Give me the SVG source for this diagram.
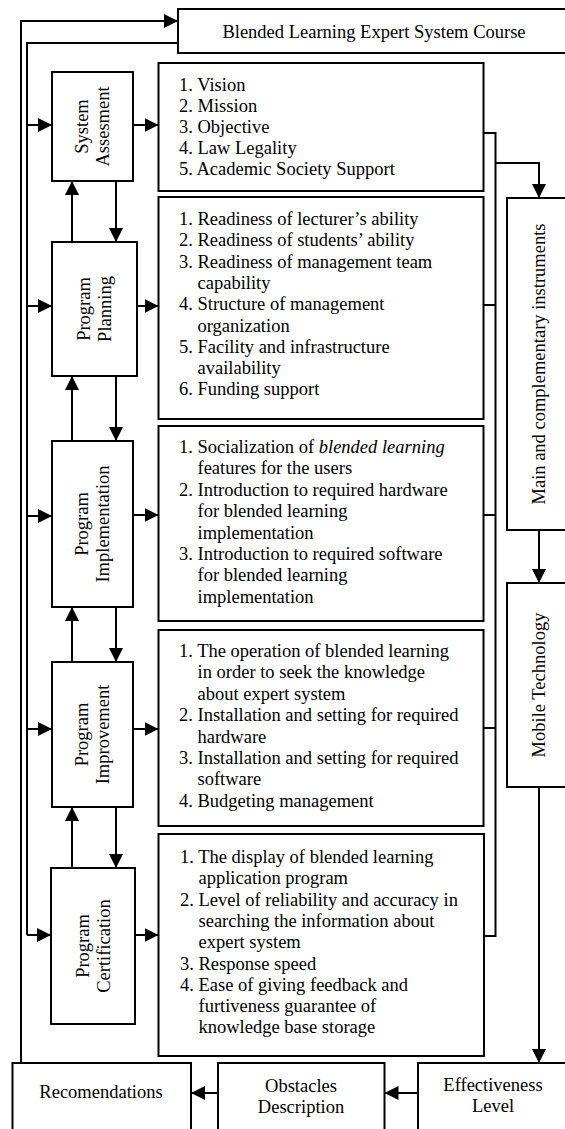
<svg xmlns="http://www.w3.org/2000/svg" width="565" height="1129" viewBox="0 0 565 1129">
<defs>
<marker id="ah" markerUnits="userSpaceOnUse" markerWidth="15" markerHeight="14" refX="14" refY="7" orient="auto">
<path d="M0,0 L14,7 L0,14 z" fill="#000"/>
</marker>
<style>
.box{fill:#fff;stroke:#000;stroke-width:2}
.ln{fill:none;stroke:#000;stroke-width:2}
.ar{fill:none;stroke:#000;stroke-width:2;marker-end:url(#ah)}
text{font-family:"Liberation Serif","Times New Roman",serif;font-size:18.5px;fill:#000}
.c{text-anchor:middle}
</style>
</defs>
<rect width="565" height="1129" fill="#fff"/>

<g id="connectors">
<path class="ar" d="M21,1063 V21 H178"/>
<path class="ln" d="M178,43 H27 V935"/>
<path class="ar" d="M27,125 H52"/>
<path class="ar" d="M27,306 H52"/>
<path class="ar" d="M27,516 H52"/>
<path class="ar" d="M27,729 H52"/>
<path class="ar" d="M27,935 H51"/>
<path class="ar" d="M133,125 H158.5"/>
<path class="ar" d="M137,306 H158.5"/>
<path class="ar" d="M133,515 H158.5"/>
<path class="ar" d="M133,729 H158.5"/>
<path class="ar" d="M135,935 H158.5"/>
<path class="ar" d="M72,242 V181"/>
<path class="ar" d="M116,181 V242"/>
<path class="ar" d="M72,441 V376"/>
<path class="ar" d="M116,376 V441"/>
<path class="ar" d="M72,662 V607"/>
<path class="ar" d="M116,607 V662"/>
<path class="ar" d="M72,868 V807"/>
<path class="ar" d="M116,807 V868"/>
<path class="ln" d="M483.5,133 H495.5 V936 H483.5"/>
<path class="ln" d="M483.5,305 H495.5"/>
<path class="ln" d="M483.5,515 H495.5"/>
<path class="ln" d="M483.5,728 H495.5"/>
<path class="ar" d="M495.5,163 H539 V198"/>
<path class="ar" d="M539,530 V583"/>
<path class="ar" d="M539,787 V1063"/>
<path class="ar" d="M418,1093 H384.5"/>
<path class="ar" d="M218,1093 H191"/>
</g>

<g id="course">
<rect class="box" x="178" y="9" width="400" height="44"/>
<text class="c" x="374" y="37.5">Blended Learning Expert System Course</text>
</g>

<g id="system-assesment">
<rect class="box" x="52" y="72" width="81" height="109"/>
<text class="c" transform="translate(92.5,126.5) rotate(-90)"><tspan x="0" y="-4.5">System</tspan><tspan x="0" y="16.5">Assesment</tspan></text>
</g>

<g id="program-planning">
<rect class="box" x="52" y="242" width="85" height="134"/>
<text class="c" transform="translate(94.5,309) rotate(-90)"><tspan x="0" y="-4.5">Program</tspan><tspan x="0" y="16.5">Planning</tspan></text>
</g>

<g id="program-implementation">
<rect class="box" x="52" y="441" width="81" height="166"/>
<text class="c" transform="translate(92.5,524) rotate(-90)"><tspan x="0" y="-4.5">Program</tspan><tspan x="0" y="16.5">Implementation</tspan></text>
</g>

<g id="program-improvement">
<rect class="box" x="52" y="662" width="81" height="145"/>
<text class="c" transform="translate(92.5,734.5) rotate(-90)"><tspan x="0" y="-4.5">Program</tspan><tspan x="0" y="16.5">Improvement</tspan></text>
</g>

<g id="program-certification">
<rect class="box" x="51" y="868" width="84" height="156"/>
<text class="c" transform="translate(93,946) rotate(-90)"><tspan x="0" y="-4.5">Program</tspan><tspan x="0" y="16.5">Certification</tspan></text>
</g>

<g id="list-assesment">
<rect class="box" x="158.5" y="63" width="325" height="128"/>
<text>
<tspan x="179" y="91">1. Vision</tspan>
<tspan x="179" y="112">2. Mission</tspan>
<tspan x="179" y="133">3. Objective</tspan>
<tspan x="179" y="154">4. Law Legality</tspan>
<tspan x="179" y="175">5. Academic Society Support</tspan>
</text>
</g>

<g id="list-planning">
<rect class="box" x="158.5" y="197" width="325" height="222"/>
<text>
<tspan x="179" y="225">1. Readiness of lecturer’s ability</tspan>
<tspan x="179" y="246.3">2. Readiness of students’ ability</tspan>
<tspan x="179" y="267.6">3. Readiness of management team</tspan>
<tspan x="197.5" y="288.9">capability</tspan>
<tspan x="179" y="310.2">4. Structure of management</tspan>
<tspan x="197.5" y="331.5">organization</tspan>
<tspan x="179" y="352.8">5. Facility and infrastructure</tspan>
<tspan x="197.5" y="374.1">availability</tspan>
<tspan x="179" y="395.4">6. Funding support</tspan>
</text>
</g>

<g id="list-implementation">
<rect class="box" x="158.5" y="426" width="325" height="195"/>
<text>
<tspan x="179" y="453">1. Socialization of <tspan font-style="italic">blended learning</tspan></tspan>
<tspan x="197.5" y="474.4">features for the users</tspan>
<tspan x="179" y="495.8">2. Introduction to required hardware</tspan>
<tspan x="197.5" y="517.2">for blended learning</tspan>
<tspan x="197.5" y="538.6">implementation</tspan>
<tspan x="179" y="560">3. Introduction to required software</tspan>
<tspan x="197.5" y="581.4">for blended learning</tspan>
<tspan x="197.5" y="602.8">implementation</tspan>
</text>
</g>

<g id="list-improvement">
<rect class="box" x="158.5" y="630" width="325" height="196"/>
<text>
<tspan x="179" y="657">1. The operation of blended learning</tspan>
<tspan x="197.5" y="678.4">in order to seek the knowledge</tspan>
<tspan x="197.5" y="699.8">about expert system</tspan>
<tspan x="179" y="721.2">2. Installation and setting for required</tspan>
<tspan x="197.5" y="742.6">hardware</tspan>
<tspan x="179" y="764">3. Installation and setting for required</tspan>
<tspan x="197.5" y="785.4">software</tspan>
<tspan x="179" y="806.8">4. Budgeting management</tspan>
</text>
</g>

<g id="list-certification">
<rect class="box" x="158.5" y="834" width="325.5" height="222"/>
<text>
<tspan x="180" y="863">1. The display of blended learning</tspan>
<tspan x="198.5" y="884.3">application program</tspan>
<tspan x="180" y="905.6">2. Level of reliability and accuracy in</tspan>
<tspan x="198.5" y="926.9">searching the information about</tspan>
<tspan x="198.5" y="948.2">expert system</tspan>
<tspan x="180" y="969.5">3. Response speed</tspan>
<tspan x="180" y="990.8">4. Ease of giving feedback  and</tspan>
<tspan x="198.5" y="1012.1">furtiveness guarantee of</tspan>
<tspan x="198.5" y="1033.4">knowledge base storage</tspan>
</text>
</g>

<g id="instruments">
<rect class="box" x="507" y="198" width="70" height="332"/>
<text class="c" transform="translate(545,364) rotate(-90)" x="0" y="0">Main and complementary instruments</text>
</g>

<g id="mobile">
<rect class="box" x="507" y="583" width="70" height="204"/>
<text class="c" transform="translate(545,685) rotate(-90)" x="0" y="0">Mobile Technology</text>
</g>

<g id="recomendations">
<rect class="box" x="12.5" y="1063" width="178.5" height="80"/>
<text class="c" x="101" y="1098">Recomendations</text>
</g>

<g id="obstacles">
<rect class="box" x="218" y="1063" width="166.5" height="80"/>
<text class="c"><tspan x="301" y="1091.5">Obstacles</tspan><tspan x="301" y="1113">Description</tspan></text>
</g>

<g id="effectiveness">
<rect class="box" x="418" y="1063" width="160" height="80"/>
<text class="c"><tspan x="493" y="1090.5">Effectiveness</tspan><tspan x="493" y="1112">Level</tspan></text>
</g>
</svg>
